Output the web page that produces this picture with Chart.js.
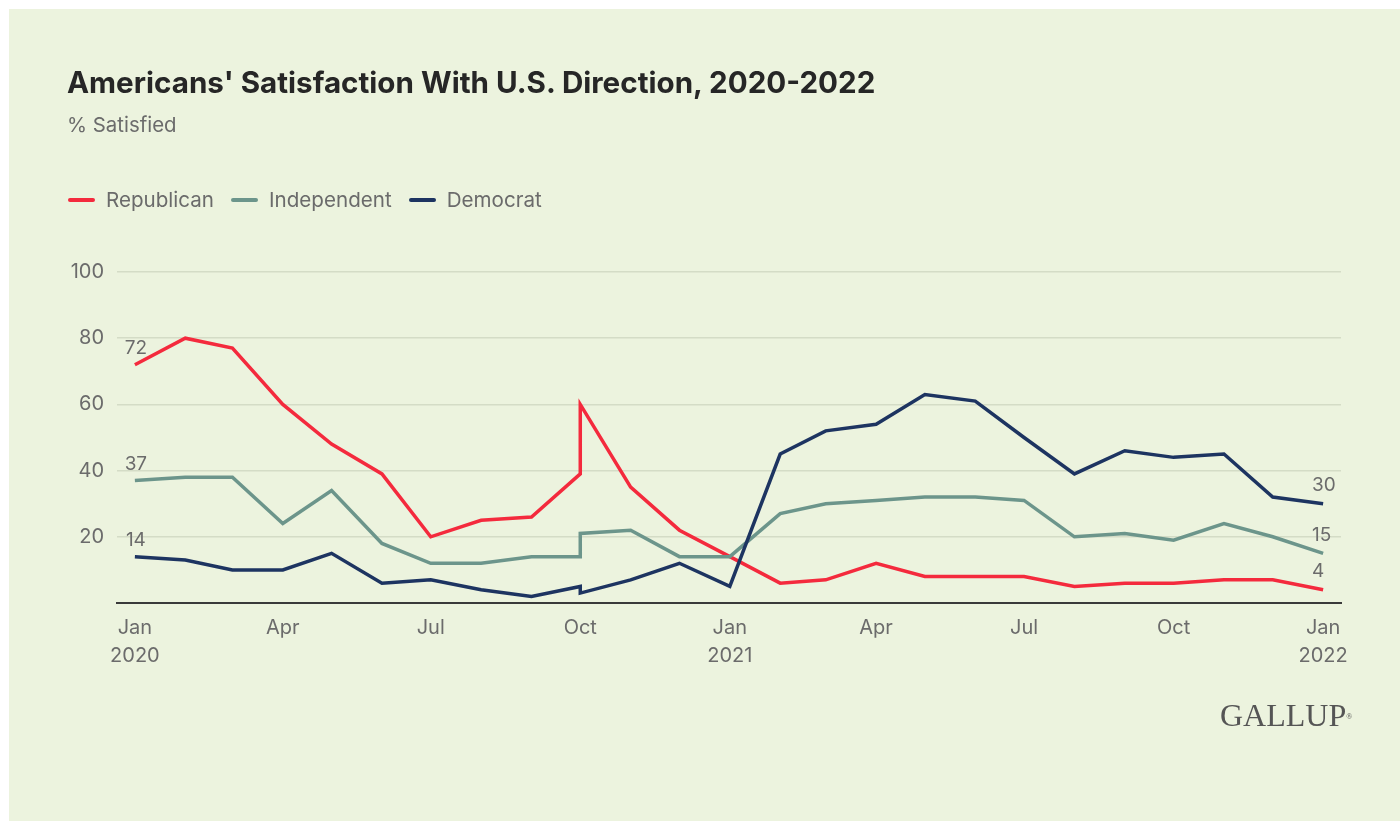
<!DOCTYPE html>
<html>
<head>
<meta charset="utf-8">
<script src="https://cdn.jsdelivr.net/npm/chart.js@4.4.1/dist/chart.umd.min.js"></script>
<style>
  html, body { margin: 0; padding: 0; background: #fff; }
  body { width: 1400px; height: 821px; position: relative; overflow: hidden; font-family: Inter, "Noto Sans", sans-serif; }
  .bg { position: absolute; left: 9px; top: 9px; right: 0; bottom: 0; background: #ecf3de; }
  #chart { position: absolute; left: 0; top: 0; }
  .title { position: absolute; left: 67px; top: 68px; font-size: 29.6px; line-height: 29px; font-weight: 700; color: #262626; white-space: nowrap; }
  .sub { position: absolute; left: 67px; top: 115px; font-size: 20.4px; line-height: 20px; color: #6b6b6b; }
  .legend { position: absolute; left: 68px; top: 190px; display: flex; align-items: center; font-size: 20.6px; line-height: 20px; color: #6b6b6b; }
  .legend span.sw { display: inline-block; width: 27px; height: 4px; border-radius: 2px; margin-right: 11px; }
  .legend span.lb { margin-right: 17px; }
  .logo { position: absolute; left: 1220px; top: 699px; font-family: "Liberation Serif", "DejaVu Serif", serif; font-size: 32px; line-height: 32px; color: #555; }
  .logo sup { font-size: 8px; vertical-align: top; position: relative; top: 2px; }
</style>
</head>
<body>
<div class="bg"></div>
<canvas id="chart" width="1400" height="821"></canvas>
<div class="title">Americans' Satisfaction With U.S. Direction, 2020-2022</div>
<div class="sub">% Satisfied</div>
<div class="legend" id="legend"></div>
<div class="logo">GALLUP<sup>®</sup></div>
<script>
// survey months (Oct 2020 has two readings)
const dates = ['2020-01','2020-02','2020-03','2020-04','2020-05','2020-06','2020-07','2020-08','2020-09',
  '2020-10','2020-10','2020-11','2020-12','2021-01','2021-02','2021-03','2021-04','2021-05','2021-06',
  '2021-07','2021-08','2021-09','2021-10','2021-11','2021-12','2022-01']
const republican = [72,80,77,60,48,39,20,25,26,39,60,35,22,14,6,7,12,8,8,8,5,6,6,7,7,4]
const independent = [37,38,38,24,34,18,12,12,14,14,21,22,14,14,27,30,31,32,32,31,20,21,19,24,20,15]
const democrat = [14,13,10,10,15,6,7,4,2,5,3,7,12,5,45,52,54,63,61,50,39,46,44,45,32,30]

const tickDates = ['2020-01','2020-04','2020-07','2020-10','2021-01','2021-04','2021-07','2021-10','2022-01']
const tickLabels = [['Jan','2020'],'Apr','Jul','Oct',['Jan','2021'],'Apr','Jul','Oct',['Jan','2022']]
const yTicks = [20, 40, 60, 80, 100]

const colors = { Republican: '#f42a3d', Independent: '#6c958b', Democrat: '#1d3461' }
const grey = '#6b6b6b'

const dayOf = s => {
    const [y, m] = s.split('-').map(Number)
    return (Date.UTC(y, m - 1, 1) - Date.UTC(2020, 0, 1)) / 864e5
}
const toPoints = vals => vals.map((v, i) => ({ x: dayOf(dates[i]), y: v }))

const series = [
    { label: 'Republican', data: republican, order: 2 },
    { label: 'Independent', data: independent, order: 1 },
    { label: 'Democrat', data: democrat, order: 0 }
]

document.getElementById('legend').innerHTML = series.map(s =>
    `<span class="sw" style="background:${colors[s.label]}"></span><span class="lb">${s.label}</span>`).join('')

// first / last value labels
const endLabels = {
    id: 'endLabels',
    afterDatasetsDraw(chart) {
        const ctx = chart.ctx
        ctx.save()
        ctx.font = '19px Inter'
        ctx.fillStyle = grey
        ctx.textBaseline = 'middle'
        chart.data.datasets.forEach((ds, i) => {
            const pts = chart.getDatasetMeta(i).data
            const first = pts[0], last = pts[pts.length - 1]
            ctx.textAlign = 'center'
            ctx.fillText(ds.data[0].y, first.x + 1, first.y - 16)
            ctx.textAlign = 'left'
            ctx.fillText(ds.data[ds.data.length - 1].y, last.x - 11, last.y - 18)
        })
        ctx.restore()
    }
}

Chart.defaults.font.family = 'Inter'
Chart.defaults.font.size = 20
Chart.defaults.color = grey

new Chart(document.getElementById('chart'), {
    type: 'line',
    data: {
        datasets: series.map(s => ({
            label: s.label,
            data: toPoints(s.data),
            order: s.order,
            borderColor: colors[s.label],
            backgroundColor: colors[s.label],
            borderWidth: 3.5,
            pointRadius: 0,
            tension: 0,
            borderJoinStyle: 'miter'
        }))
    },
    options: {
        responsive: false,
        animation: false,
        layout: { padding: { left: 20, right: 59, top: 272, bottom: 138 } },
        plugins: { legend: { display: false }, tooltip: { enabled: false } },
        scales: {
            x: {
                type: 'linear',
                min: -11,
                max: 742,
                afterFit: s => { s.height = 80 },
                afterBuildTicks: s => { s.ticks = tickDates.map(d => ({ value: dayOf(d) })) },
                ticks: {
                    autoSkip: false,
                    maxRotation: 0,
                    padding: 11,
                    font: { size: 20, lineHeight: 1.4 },
                    callback: (v, i) => tickLabels[i]
                },
                grid: { display: true, color: 'transparent', drawTicks: false },
                border: { display: true, color: '#3a3a3a', width: 2 }
            },
            y: {
                min: 0,
                max: 100,
                afterFit: s => { s.width = 97 },
                afterBuildTicks: s => { s.ticks = [0].concat(yTicks).map(v => ({ value: v })) },
                ticks: {
                    padding: 13,
                    font: { size: 20 },
                    callback: v => v === 0 ? '' : v
                },
                grid: {
                    drawTicks: false,
                    lineWidth: 1.5,
                    color: c => c.tick && c.tick.value === 0 ? 'transparent' : '#d4dcc6'
                },
                border: { display: false }
            }
        }
    },
    plugins: [endLabels]
})
</script>
</body>
</html>
